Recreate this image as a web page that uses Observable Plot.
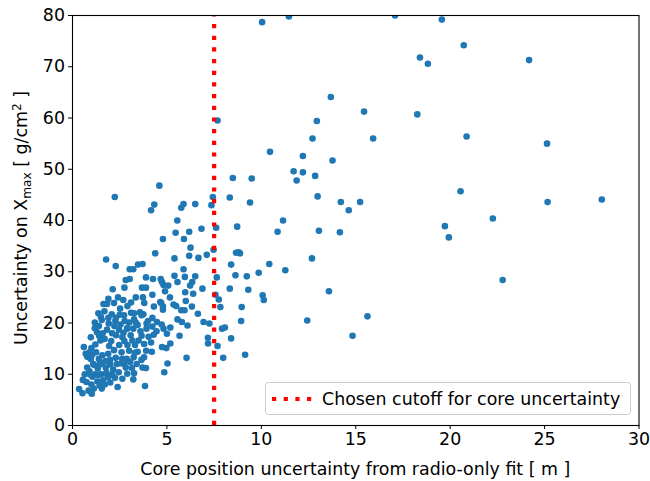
<!DOCTYPE html>
<html><head><meta charset="utf-8">
<script src="https://cdn.jsdelivr.net/npm/d3@7"></script>
<script src="https://cdn.jsdelivr.net/npm/@observablehq/plot@0.6"></script>
<style>body{margin:0;background:#fff;}</style>
</head><body><div id="chart"></div>
<script>
// Core position uncertainty [m]
const coreUnc = [
10.04,11.46,17.08,19.56,20.72,18.4,18.82,24.18,15.44,18.26,15.92,20.87,25.13,14.21,15.23,14.63,14.16,20.55,19.72,19.93,
22.26,25.16,28.03,22.78,15.62,14.83,13.68,7.68,12.94,12.71,10.46,12.2,13.77,11.71,12.2,12.85,8.49,9.49,11.87,12.98,
9.40,11.15,10.86,13.05,8.87,12.68,10.42,11.27,9.86,9.23,9.31,10.07,10.13,13.58,8.96,8.93,12.43,9.14,
7.43,8.33,5.88,5.76,6.50,7.36,4.6,5.55,5.46,6.18,6.83,7.61,8.72,4.79,5.90,6.25,7.47,8.66,8.80,5.40,6.18,6.67,7.11,8.40,5.88,
5.40,6.50,7.64,8.63,4.82,5.07,5.56,6.23,6.88,8.33,4.90,5.97,6.39,5.16,6.0,7.75,7.57,4.65,5.35,5.49,5.76,5.93,6.32,4.79,6.64,7.83,
5.56,5.79,6.09,6.94,7.25,7.92,8.07,4.82,5.0,5.18,5.67,7.17,8.40,7.68,7.18,5.18,4.97,6.04,7.98,5.03,
2.24,4.33,4.16,4.38,1.78,2.29,3.03,3.22,3.47,3.71,
5.95,2.82,3.03,3.89,4.26,4.67,4.74,3.68,3.89,2.75,2.13,4.23,1.90,2.41,2.69,3.35,3.73,3.80,1.64,1.83,4.70,4.31,4.79,
1.37,1.69,2.52,2.91,2.08,2.73,3.10,3.26,3.57,3.75,4.23,4.47,4.72,1.55,1.92,1.18,2.27,2.54,2.76,3.26,3.45,3.66,3.92,2.91,6.34,
1.18,1.83,2.22,2.46,2.89,3.22,3.92,4.23,0.97,1.41,1.48,2.31,2.64,3.08,3.17,3.66,4.03,4.30,
0.60,1.0,1.21,1.94,2.47,2.91,3.31,3.79,4.16,4.74,0.78,0.97,1.58,1.89,1.99,2.29,2.63,2.87,3.24,3.65,3.79,3.71,3.89,4.86,
0.78,0.90,1.34,1.76,2.15,2.45,2.82,3.15,3.26,0.55,0.74,1.06,1.32,1.62,1.89,1.71,2.25,2.39,2.64,3.22,3.84,
0.35,0.53,0.85,1.02,1.13,1.44,
1.25,1.55,2.05,2.6,3.0,1.1,1.5,2.0,3.45,4.45,1.7,2.75,3.5,1.3,2.1,2.3,1.5,3.0,4.0,1.2,2.6,3.4,4.2,0.9,1.8,
0.7,1.05,1.4,1.75,1.15,1.45,2.35,2.75,3.05,0.95,1.35,1.75,2.1,2.9,1.0,1.55,2.0,0.65,2.2,3.3,3.9,1.6,2.7,3.6,1.4,2.5,3.35,1.9,3.1,2.2
];
// Uncertainty on Xmax [g/cm^2]
const xmaxUnc = [
78.7,79.8,80.0,79.2,74.2,71.8,70.6,71.3,61.25,60.7,56.0,56.4,55.0,43.6,43.6,42.0,37.7,45.7,38.9,36.7,
40.4,43.6,44.1,28.4,21.3,17.5,64.1,59.5,59.4,56.0,53.4,52.6,51.7,49.6,49.4,48.7,48.3,48.2,47.8,44.7,
43.5,40.0,37.8,38.0,33.6,32.6,31.5,30.3,29.8,29.1,26.5,25.4,24.5,26.2,23.1,20.4,20.5,13.8,
44.6,44.5,43.2,42.5,43.2,43.0,46.8,40.0,37.6,37.8,38.4,38.6,38.8,36.4,36.4,34.7,34.3,33.7,33.8,32.6,33.1,32.7,33.3,31.4,30.5,
29.2,29.1,28.9,29.3,27.4,27.3,28.0,27.3,26.7,26.7,26.2,26.0,25.7,25.0,24.3,24.6,25.5,24.1,23.6,23.3,22.5,22.5,23.2,22.6,21.8,23.1,
20.7,20.2,19.5,20.2,19.9,18.9,19.1,18.9,17.9,19.1,17.5,17.1,17.0,15.5,16.0,16.0,15.1,13.2,13.2,12.1,
44.6,43.1,42.0,33.6,32.4,31.1,30.5,30.5,31.4,31.5,
29.0,28.4,28.6,28.9,28.6,28.6,28.0,26.9,26.9,26.9,26.6,25.5,24.7,25.0,24.5,25.0,25.0,23.9,23.7,23.7,23.9,23.2,23.2,
21.9,22.3,22.8,23.3,21.7,21.5,22.0,21.9,22.1,21.7,21.0,20.2,19.7,20.6,19.9,20.1,20.4,19.7,20.4,20.7,19.6,21.5,19.9,19.0,28.0,
19.0,18.7,19.4,18.7,18.9,18.9,18.9,19.3,17.2,17.5,16.6,17.6,17.2,17.6,16.6,17.5,17.3,17.7,
15.3,15.1,15.8,15.5,15.7,15.7,15.7,15.9,16.2,15.3,13.4,13.0,13.7,14.0,12.8,13.2,13.0,13.0,13.3,12.8,13.3,11.3,11.2,10.4,
11.3,10.6,11.1,11.3,10.9,10.4,11.3,11.2,10.2,8.9,8.5,9.5,8.6,8.8,9.4,8.0,9.3,7.5,9.1,9.0,7.7,
7.1,6.3,6.8,6.2,7.2,7.8,
14.3,12.2,16.5,14.3,14.6,12.0,10.0,11.9,14.4,18.4,16.9,16.5,16.6,18.2,18.0,21.0,21.2,20.1,20.4,10.0,12.1,12.0,14.4,14.3,10.3,
14.0,13.8,13.0,12.6,11.8,11.9,12.0,12.3,12.4,9.9,9.8,10.1,9.9,10.1,8.0,7.2,8.4,10.0,14.7,14.2,14.6,18.0,18.1,18.4,19.4,21.6,20.1,21.0,24.0,23.9
];
const cutoff = [7.5];
const xTicks = [0, 5, 10, 15, 20, 25, 30];
const yTicks = [0, 10, 20, 30, 40, 50, 60, 70, 80];
const legendLabel = "Chosen cutoff for core uncertainty";
const xLabel = "Core position uncertainty from radio-only fit [ m ]";

const data = coreUnc.map((x, i) => ({x, y: xmaxUnc[i]}));
const W = 650, H = 481, mL = 72, mR = 11.5, mT = 15, mB = 56;
const font = "DejaVu Sans";
const fs = 17.4;

const chart = Plot.plot({
  width: W, height: H,
  marginLeft: mL, marginRight: mR, marginTop: mT, marginBottom: mB,
  style: {fontFamily: font, fontSize: fs + "px", color: "#000", background: "#fff"},
  x: {domain: [0, 30], ticks: xTicks, tickSize: 4, tickPadding: 3.5, label: null},
  y: {domain: [0, 80], ticks: yTicks, tickSize: 4, tickPadding: 3.5, label: null},
  marks: [
    Plot.dot(data, {x: "x", y: "y", r: 3.3, fill: "#1f77b4", clip: true}),
    Plot.ruleX(cutoff, {y1: 0, y2: 80, stroke: "red", strokeWidth: 4.2, strokeDasharray: "4.2,7.47"}),
    Plot.frame({stroke: "#000", strokeWidth: 1.1})
  ]
});
document.getElementById("chart").appendChild(chart);

const svg = d3.select(chart);
// x label
svg.append("text").attr("x", (mL + W - mR) / 2).attr("y", 475)
  .attr("text-anchor", "middle").attr("font-family", font).attr("font-size", fs).attr("fill", "#000")
  .text(xLabel);
// y label with sub/superscript
const yl = svg.append("text").attr("transform", "translate(27,218) rotate(-90)")
  .attr("text-anchor", "middle").attr("font-family", font).attr("font-size", fs).attr("fill", "#000");
yl.append("tspan").text("Uncertainty on X");
yl.append("tspan").attr("font-size", 12.2).attr("dy", 3.5).text("max");
yl.append("tspan").attr("dy", -3.5).text(" [ g/cm");
yl.append("tspan").attr("font-size", 12.2).attr("dy", -6.5).text("2");
yl.append("tspan").attr("dy", 6.5).text(" ]");
// legend
const lg = svg.append("g");
lg.append("rect").attr("x", 265.5).attr("y", 382.5).attr("width", 365).attr("height", 32).attr("rx", 3)
  .attr("fill", "#fff").attr("fill-opacity", 0.8).attr("stroke", "#cccccc").attr("stroke-width", 1);
lg.append("line").attr("x1", 272).attr("x2", 314).attr("y1", 399).attr("y2", 399)
  .attr("fill", "none").attr("stroke-linecap", "butt")
  .attr("stroke", "red").attr("stroke-width", 4.2).attr("stroke-dasharray", "4.2,7.47");
lg.append("text").attr("x", 322).attr("y", 405).attr("text-anchor", "start")
  .attr("font-family", font).attr("font-size", fs).attr("fill", "#000")
  .text(legendLabel);
</script>
</body></html>
